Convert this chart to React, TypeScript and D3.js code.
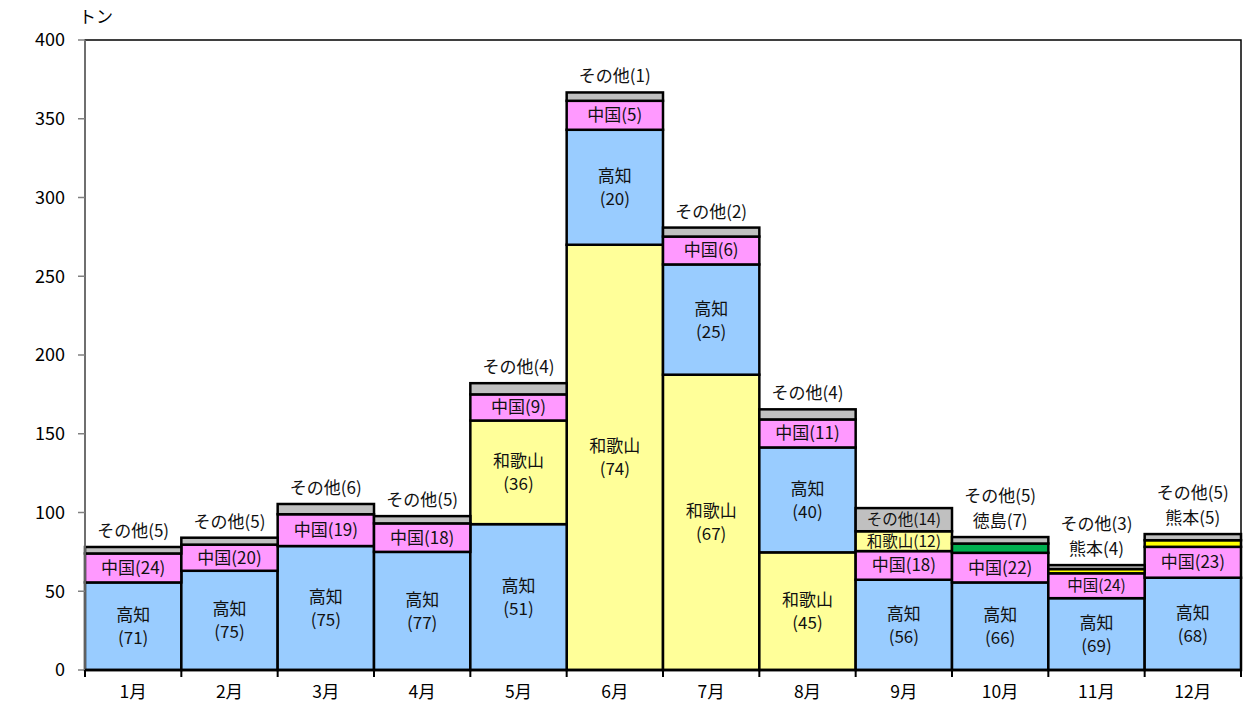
import * as d3 from "d3";

const MONTHS = ["1月", "2月", "3月", "4月", "5月", "6月", "7月", "8月", "9月", "10月", "11月", "12月"];

// 積み上げ順（下から）
const KEYS = ["wakayama", "kochi", "wakayamaMid", "chugoku", "wakayamaTop", "tokushima", "kumamoto", "other"];
const NAMES: Record<string, string> = {
  wakayama: "和歌山",
  kochi: "高知",
  wakayamaMid: "和歌山",
  chugoku: "中国",
  wakayamaTop: "和歌山",
  tokushima: "徳島",
  kumamoto: "熊本",
  other: "その他",
};
const COLORS: Record<string, string> = {
  wakayama: "#FFFF99",
  kochi: "#99CCFF",
  wakayamaMid: "#FFFF99",
  chugoku: "#FF99FF",
  wakayamaTop: "#FFFF99",
  tokushima: "#00B050",
  kumamoto: "#FFFF00",
  other: "#C0C0C0",
};

// トン
const WAKAYAMA = [0, 0, 0, 0, 0, 270, 187.5, 74.7, 0, 0, 0, 0];
const KOCHI = [55.6, 63, 78.7, 75, 92.6, 73, 70, 66.6, 57.3, 55.6, 45.6, 58.6];
const WAKAYAMA_MID = [0, 0, 0, 0, 65.8, 0, 0, 0, 0, 0, 0, 0];
const CHUGOKU = [18.4, 16.6, 20.2, 18.1, 16.6, 18.4, 17.7, 17.8, 18.2, 18.8, 15.8, 19.6];
const WAKAYAMA_TOP = [0, 0, 0, 0, 0, 0, 0, 0, 12.6, 0, 0, 0];
const TOKUSHIMA = [0, 0, 0, 0, 0, 0, 0, 0, 0, 5.9, 0, 0];
const KUMAMOTO = [0, 0, 0, 0, 0, 0, 0, 0, 0, 0, 2.7, 4.2];
const OTHER = [4.1, 4.4, 6.5, 4.6, 7.1, 5.3, 5.7, 6.4, 14.7, 4.1, 2.5, 3.9];

// シェア(%)ラベル
const WAKAYAMA_PCT = [0, 0, 0, 0, 0, 74, 67, 45, 0, 0, 0, 0];
const KOCHI_PCT = [71, 75, 75, 77, 51, 20, 25, 40, 56, 66, 69, 68];
const WAKAYAMA_MID_PCT = [0, 0, 0, 0, 36, 0, 0, 0, 0, 0, 0, 0];
const CHUGOKU_PCT = [24, 20, 19, 18, 9, 5, 6, 11, 18, 22, 24, 23];
const WAKAYAMA_TOP_PCT = [0, 0, 0, 0, 0, 0, 0, 0, 12, 0, 0, 0];
const TOKUSHIMA_PCT = [0, 0, 0, 0, 0, 0, 0, 0, 0, 7, 0, 0];
const KUMAMOTO_PCT = [0, 0, 0, 0, 0, 0, 0, 0, 0, 0, 4, 5];
const OTHER_PCT = [5, 5, 6, 5, 4, 1, 2, 4, 14, 5, 3, 5];

const Y_TICKS = [0, 50, 100, 150, 200, 250, 300, 350, 400];

const SERIES: Record<string, number[]> = {
  wakayama: WAKAYAMA, kochi: KOCHI, wakayamaMid: WAKAYAMA_MID, chugoku: CHUGOKU,
  wakayamaTop: WAKAYAMA_TOP, tokushima: TOKUSHIMA, kumamoto: KUMAMOTO, other: OTHER,
};
const PCTS: Record<string, number[]> = {
  wakayama: WAKAYAMA_PCT, kochi: KOCHI_PCT, wakayamaMid: WAKAYAMA_MID_PCT, chugoku: CHUGOKU_PCT,
  wakayamaTop: WAKAYAMA_TOP_PCT, tokushima: TOKUSHIMA_PCT, kumamoto: KUMAMOTO_PCT, other: OTHER_PCT,
};

const W = 1258;
const H = 709;
const LEFT = 85;
const RIGHT = 1241;
const TOP = 40;
const BOTTOM = 670;
const FONT = "'Noto Sans CJK JP', 'Noto Sans', sans-serif";

export default function App() {
  const rows = MONTHS.map((m, i) => {
    const r: any = { month: m };
    KEYS.forEach(k => (r[k] = SERIES[k][i]));
    return r;
  });
  const stacked = d3.stack<any>().keys(KEYS)(rows);

  const x = d3.scaleBand<string>().domain(MONTHS).range([LEFT, RIGHT]).padding(0);
  const y = d3.scaleLinear().domain([0, 400]).range([BOTTOM, TOP]);

  // ラベル
  const labels: { x: number; y: number; text: string; size: number }[] = [];
  MONTHS.forEach((m, i) => {
    const cx = x(m)! + x.bandwidth() / 2;
    const outside: string[] = [];
    let top = BOTTOM;
    stacked.forEach(s => {
      const k = s.key;
      const [y0, y1] = s[i];
      if (y1 - y0 <= 0) return;
      const pxTop = y(y1);
      const pxBot = y(y0);
      top = pxTop;
      const h = pxBot - pxTop;
      const name = NAMES[k];
      const pct = PCTS[k][i];
      const mid = (pxTop + pxBot) / 2;
      if (h < 18) {
        outside.push(`${name}(${pct})`);
      } else if (h > 50 && k !== "chugoku") {
        labels.push({ x: cx, y: mid - 11, text: name, size: 17 });
        labels.push({ x: cx, y: mid + 12, text: `(${pct})`, size: 17 });
      } else {
        labels.push({ x: cx, y: mid, text: `${name}(${pct})`, size: h < 25 ? 15.5 : 17 });
      }
    });
    outside.forEach((t, j) => {
      labels.push({ x: cx, y: top - 16 - 25 * j, text: t, size: 17 });
    });
  });

  return (
    <svg width={W} height={H} style={{ position: "absolute", left: 0, top: 0, background: "#fff" }}
      fontFamily={FONT}>
      {/* plot frame */}
      <rect x={LEFT} y={TOP} width={RIGHT - LEFT} height={BOTTOM - TOP} fill="none" stroke="#000" strokeWidth={1.5} />

      {/* bars */}
      {stacked.map(s => (
        <g key={s.key}>
          {s.map((d, i) => d[1] - d[0] > 0 ? (
            <rect key={i} x={x(MONTHS[i])} y={y(d[1])} width={x.bandwidth()} height={y(d[0]) - y(d[1])}
              fill={COLORS[s.key]} stroke="#000" strokeWidth={2.5} />
          ) : null)}
        </g>
      ))}

      {/* y axis */}
      <line x1={LEFT} x2={LEFT} y1={TOP} y2={BOTTOM} stroke="#808080" strokeWidth={1.5} />
      {Y_TICKS.map(t => (
        <g key={t} transform={`translate(0,${y(t)})`}>
          <line x1={LEFT - 7} x2={LEFT} stroke="#808080" strokeWidth={1.5} />
          <text x={LEFT - 20} dy="0.35em" textAnchor="end" fontSize={18} fill="#000">{t}</text>
        </g>
      ))}
      <text x={79} y={23} fontSize={17} fill="#000">トン</text>

      {/* x axis */}
      <line x1={LEFT} x2={RIGHT} y1={BOTTOM} y2={BOTTOM} stroke="#000" strokeWidth={2.5} />
      {MONTHS.concat([""]).map((m, i) => {
        const xx = i < MONTHS.length ? x(m)! : RIGHT;
        return <line key={i} x1={xx} x2={xx} y1={BOTTOM} y2={BOTTOM + 7} stroke="#000" strokeWidth={2} />;
      })}
      {MONTHS.map(m => (
        <text key={m} x={x(m)! + x.bandwidth() / 2} y={692} dy="0.35em" textAnchor="middle" fontSize={17.5} fill="#000">{m}</text>
      ))}

      {/* labels */}
      {labels.map((l, i) => (
        <text key={i} x={l.x} y={l.y} dy="0.35em" textAnchor="middle" fontSize={l.size} fill="#111">{l.text}</text>
      ))}
    </svg>
  );
}
